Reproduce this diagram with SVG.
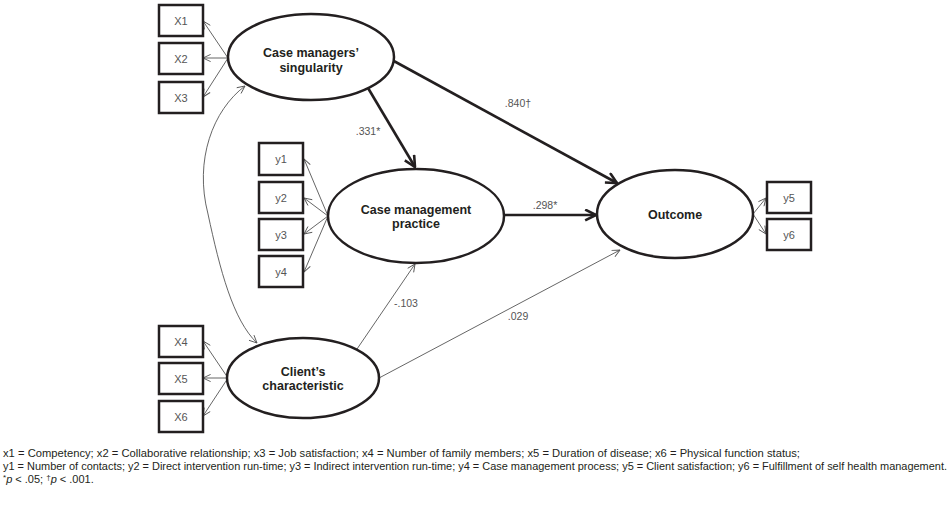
<svg xmlns="http://www.w3.org/2000/svg" width="951" height="506" viewBox="0 0 951 506">
<style>
.box{fill:#fff;stroke:#231f20;stroke-width:2.5}
.ell{fill:#fff;stroke:#231f20;stroke-width:2.5}
.bt{font-family:"Liberation Sans",Arial,sans-serif;font-size:11px;fill:#555;text-anchor:middle}
.nt{font-family:"Liberation Sans",Arial,sans-serif;font-size:12.5px;font-weight:bold;fill:#231f20;text-anchor:middle}
.lb{font-family:"Liberation Sans",Arial,sans-serif;font-size:10.5px;fill:#555;text-anchor:middle}
.thin{fill:none;stroke:#555;stroke-width:0.9;marker-end:url(#ah)}
.thick{fill:none;stroke:#231f20;stroke-width:2.6;marker-end:url(#ahT)}
.fn{font-family:"Liberation Sans",Arial,sans-serif;font-size:11px;fill:#231f20}
</style>
<defs>
<marker id="ah" viewBox="0 0 10 10" refX="9.5" refY="5" markerWidth="9" markerHeight="9" markerUnits="userSpaceOnUse" orient="auto-start-reverse">
<path d="M1,1 L9.5,5 L1,9" fill="none" stroke="#555" stroke-width="1"/>
</marker>
<marker id="ahT" viewBox="0 0 12 12" refX="11" refY="6" markerWidth="13" markerHeight="13" markerUnits="userSpaceOnUse" orient="auto">
<path d="M1,1 L11,6 L1,11" fill="none" stroke="#231f20" stroke-width="2.4"/>
</marker>
</defs>

<g id="connectors">
<line class="thin" x1="228" y1="58" x2="203" y2="21"/>
<line class="thin" x1="228" y1="58" x2="203" y2="58"/>
<line class="thin" x1="228" y1="58" x2="203" y2="97"/>
<path class="thin" d="M208,214 C194,160 213,110 245,86"/>
<path class="thin" d="M208,214 C220,270 233,320 257,343"/>
<line class="thin" x1="328" y1="216" x2="304" y2="159"/>
<line class="thin" x1="328" y1="216" x2="304" y2="198"/>
<line class="thin" x1="328" y1="216" x2="304" y2="234"/>
<line class="thin" x1="328" y1="216" x2="304" y2="272"/>
<line class="thin" x1="753" y1="214" x2="766" y2="198"/>
<line class="thin" x1="753" y1="214" x2="766" y2="234"/>
<line class="thin" x1="228" y1="378" x2="203" y2="341"/>
<line class="thin" x1="228" y1="378" x2="203" y2="378"/>
<line class="thin" x1="228" y1="378" x2="203" y2="416"/>
<line class="thin" x1="357" y1="349" x2="415" y2="264"/>
<line class="thin" x1="379" y1="378" x2="620" y2="250"/>
<line class="thick" x1="368" y1="88" x2="415" y2="167"/>
<line class="thick" x1="392" y1="60" x2="617" y2="183"/>
<line class="thick" x1="505" y1="215" x2="596" y2="215"/>
<text class="lb" x="368" y="135">.331*</text>
<text class="lb" x="518" y="107">.840†</text>
<text class="lb" x="545" y="209">.298*</text>
<text class="lb" x="406" y="307">-.103</text>
<text class="lb" x="518" y="320">.029</text>
</g>

<g id="X1"><rect class="box" x="159" y="5" width="44" height="31"/><text class="bt" x="181" y="25">X1</text></g>
<g id="X2"><rect class="box" x="159" y="43" width="44" height="31"/><text class="bt" x="181" y="63">X2</text></g>
<g id="X3"><rect class="box" x="159" y="82" width="44" height="31"/><text class="bt" x="181" y="102">X3</text></g>
<g id="X4"><rect class="box" x="159" y="326" width="44" height="31"/><text class="bt" x="181" y="346">X4</text></g>
<g id="X5"><rect class="box" x="159" y="363" width="44" height="31"/><text class="bt" x="181" y="383">X5</text></g>
<g id="X6"><rect class="box" x="159" y="401" width="44" height="31"/><text class="bt" x="181" y="421">X6</text></g>
<g id="y1"><rect class="box" x="259" y="143" width="44" height="32"/><text class="bt" x="281" y="163">y1</text></g>
<g id="y2"><rect class="box" x="259" y="182" width="44" height="31"/><text class="bt" x="281" y="202">y2</text></g>
<g id="y3"><rect class="box" x="259" y="219" width="44" height="31"/><text class="bt" x="281" y="239">y3</text></g>
<g id="y4"><rect class="box" x="259" y="256" width="44" height="31"/><text class="bt" x="281" y="276">y4</text></g>
<g id="y5"><rect class="box" x="767" y="182" width="44" height="31"/><text class="bt" x="789" y="202">y5</text></g>
<g id="y6"><rect class="box" x="767" y="219" width="44" height="31"/><text class="bt" x="789" y="239">y6</text></g>

<g id="singularity"><ellipse class="ell" cx="311" cy="57" rx="83" ry="43"/><text class="nt" x="311" y="57">Case managers’</text><text class="nt" x="311" y="72">singularity</text></g>
<g id="practice"><ellipse class="ell" cx="416" cy="216" rx="88" ry="47"/><text class="nt" x="416" y="214">Case management</text><text class="nt" x="416" y="228">practice</text></g>
<g id="outcome"><ellipse class="ell" cx="675" cy="214" rx="78" ry="44"/><text class="nt" x="675" y="219">Outcome</text></g>
<g id="client"><ellipse class="ell" cx="303" cy="378" rx="76" ry="40"/><text class="nt" x="303" y="376">Client’s</text><text class="nt" x="303" y="390">characteristic</text></g>

<g id="footnote">
<text class="fn" x="3" y="457" textLength="797" lengthAdjust="spacingAndGlyphs">x1 = Competency; x2 = Collaborative relationship; x3 = Job satisfaction; x4 = Number of family members; x5 = Duration of disease; x6 = Physical function status;</text>
<text class="fn" x="3" y="470" textLength="944" lengthAdjust="spacingAndGlyphs">y1 = Number of contacts; y2 = Direct intervention run-time; y3 = Indirect intervention run-time; y4 = Case management process; y5 = Client satisfaction; y6 = Fulfillment of self health management.</text>
<text class="fn" x="3" y="483"><tspan dy="-3" font-size="8">*</tspan><tspan dy="3" font-style="italic">p</tspan> &lt; .05; <tspan dy="-3" font-size="8">†</tspan><tspan dy="3" font-style="italic">p</tspan> &lt; .001.</text>
</g>
</svg>
